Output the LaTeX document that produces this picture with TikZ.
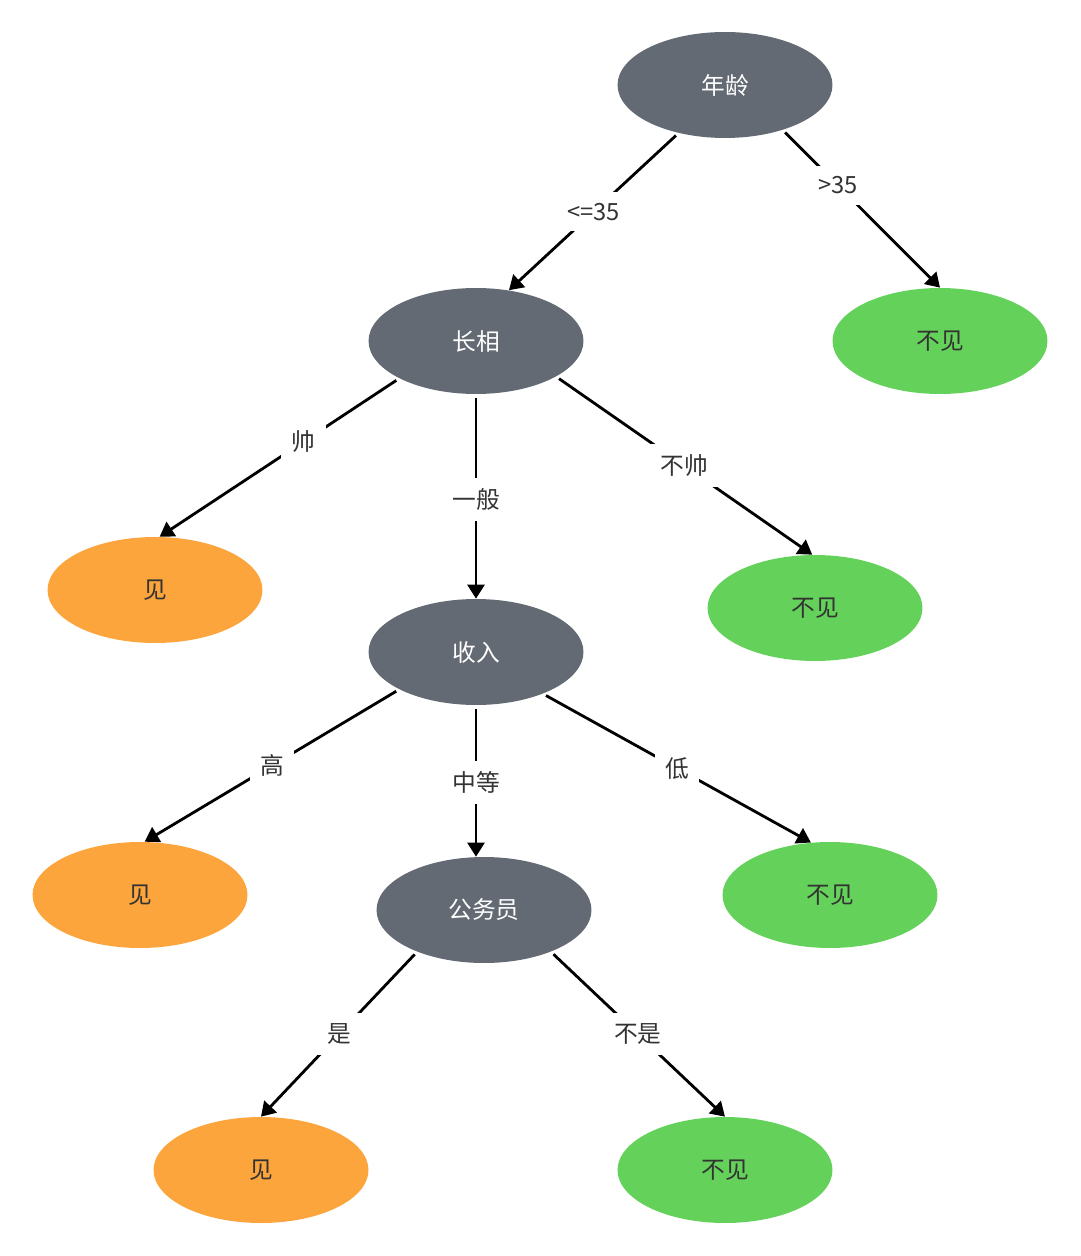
\documentclass[tikz,border=0pt]{standalone}
\usepackage{fontspec}
\newfontfamily\cjk{Noto Sans CJK SC}
\usetikzlibrary{arrows.meta, shapes.geometric}
\definecolor{nodegray}{RGB}{99,106,115}
\definecolor{nodeorange}{RGB}{252,165,60}
\definecolor{nodegreen}{RGB}{100,210,90}
\definecolor{txtdark}{RGB}{51,51,51}

\begin{document}
\begin{tikzpicture}[x=0.02cm, y=-0.02cm]

	\tikzstyle{nodo}=[ellipse, inner sep=0pt, minimum width=4.3cm, minimum height=2.12cm, font=\cjk\fontsize{13.5pt}{16pt}\selectfont]
	\tikzstyle{attr}=[nodo, fill=nodegray, text=white]
	\tikzstyle{si}=[nodo, fill=nodeorange, text=txtdark]
	\tikzstyle{no}=[nodo, fill=nodegreen, text=txtdark]
	\tikzstyle{rama}=[-{Triangle[length=0.28cm, width=0.34cm]}, line width=1.6pt, black, shorten <=2pt]
	\tikzstyle{etq}=[fill=white, inner sep=6pt, text=txtdark, font=\cjk\fontsize{13.5pt}{16pt}\selectfont]

	\useasboundingbox (0, 0) rectangle (1080, 1256);

	\coordinate (a_0) at (725, 85); % RAIZ
	\coordinate (a_1) at (476, 341); % NIVEL 1
	\coordinate (h_1) at (940, 341); % NIVEL 1
	\coordinate (h_2) at (155, 590); % NIVEL 2
	\coordinate (a_2) at (476, 652); % NIVEL 2
	\coordinate (h_3) at (815, 608); % NIVEL 2
	\coordinate (h_4) at (140, 895); % NIVEL 3
	\coordinate (a_3) at (484, 910); % NIVEL 3
	\coordinate (h_5) at (830, 895); % NIVEL 3
	\coordinate (h_6) at (261, 1170); % NIVEL 4
	\coordinate (h_7) at (725, 1170); % NIVEL 4

	\node[attr] (a_0) at (a_0) {年龄}; % RAIZ
	\node[attr] (a_1) at (a_1) {长相}; % NIVEL 1
	\node[no] (h_1) at (h_1) {不见}; % NIVEL 1
	\node[si] (h_2) at (h_2) {见}; % NIVEL 2
	\node[attr] (a_2) at (a_2) {收入}; % NIVEL 2
	\node[no] (h_3) at (h_3) {不见}; % NIVEL 2
	\node[si] (h_4) at (h_4) {见}; % NIVEL 3
	\node[attr] (a_3) at (a_3) {公务员}; % NIVEL 3
	\node[no] (h_5) at (h_5) {不见}; % NIVEL 3
	\node[si] (h_6) at (h_6) {见}; % NIVEL 4
	\node[no] (h_7) at (h_7) {不见}; % NIVEL 4

	\draw[rama] (a_0.-134) -- node[etq, pos=0.5] {<=35} (a_1.57);
	\draw[rama] (a_0.-38) -- node[etq, pos=0.35] {>35} (h_1.north);

	\draw[rama] (a_1.-154) -- node[etq, pos=0.4] {帅} (h_2.85);
	\draw[rama] (a_1.south) -- node[etq, pos=0.515] {一般} (a_2.north);
	\draw[rama] (a_1.-24) -- node[etq, pos=0.5] {不帅} (h_3.93);

	\draw[rama] (a_2.-154) -- node[etq, pos=0.5] {高} (h_4.85);
	\draw[rama] (a_2.south) -- node[etq, pos=0.51] {中等} (a_2.south |- a_3.north);
	\draw[rama] (a_2.-32) -- node[etq, pos=0.5] {低} (h_5.110);

	\draw[rama] (a_3.-148) -- node[etq, pos=0.5] {是} (h_6.north);
	\draw[rama] (a_3.-32) -- node[etq, pos=0.5] {不是} (h_7.north);

\end{tikzpicture}
\end{document}
